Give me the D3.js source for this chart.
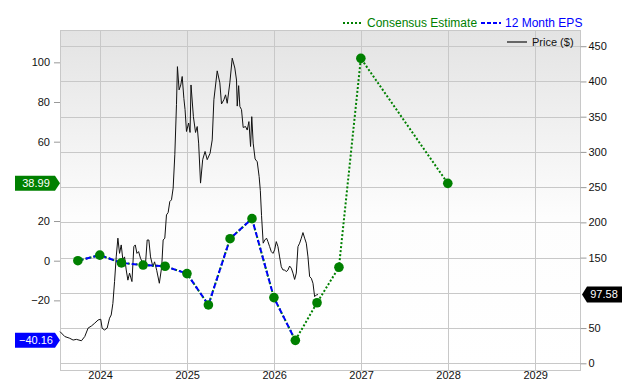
<!DOCTYPE html>
<html>
<head>
<meta charset="utf-8">
<script src="https://cdn.jsdelivr.net/npm/d3@7"></script>
<style>
  body { margin: 0; background: #fff; }
  svg { display: block; font-family: "Liberation Sans", Arial, sans-serif; }
</style>
</head>
<body>
<div id="chart"></div>
<script>
// data
const priceDates = [
  '2023-07-17', '2023-08-06', '2023-08-27', '2023-09-10', '2023-09-24', '2023-10-15',
  '2023-10-29', '2023-11-12', '2023-11-26', '2023-12-10', '2023-12-24', '2024-01-04',
  '2024-01-10', '2024-01-20', '2024-01-31', '2024-02-10', '2024-02-17', '2024-02-24',
  '2024-03-02', '2024-03-09', '2024-03-16', '2024-03-23', '2024-03-30', '2024-04-06',
  '2024-04-13', '2024-04-20', '2024-04-27', '2024-05-04', '2024-05-14', '2024-05-22',
  '2024-05-28', '2024-06-04', '2024-06-11', '2024-06-19', '2024-06-29', '2024-07-09',
  '2024-07-17', '2024-07-24', '2024-07-31', '2024-08-10', '2024-08-17', '2024-08-26',
  '2024-09-06', '2024-09-16', '2024-09-22', '2024-09-29', '2024-10-06', '2024-10-13',
  '2024-10-20', '2024-10-27', '2024-11-03', '2024-11-10', '2024-11-17', '2024-11-21',
  '2024-11-28', '2024-12-05', '2024-12-11', '2024-12-18', '2024-12-23', '2024-12-29',
  '2025-01-07', '2025-01-13', '2025-01-17', '2025-01-27', '2025-02-05', '2025-02-12',
  '2025-02-18', '2025-02-26', '2025-03-07', '2025-03-17', '2025-03-26', '2025-04-07',
  '2025-04-16', '2025-04-23', '2025-05-07', '2025-05-18', '2025-05-25', '2025-06-04',
  '2025-06-11', '2025-06-18', '2025-06-29', '2025-07-09', '2025-07-20', '2025-07-27',
  '2025-07-30', '2025-08-05', '2025-08-10', '2025-08-17', '2025-08-24', '2025-09-03',
  '2025-09-10', '2025-09-17', '2025-09-24', '2025-09-29', '2025-10-05', '2025-10-13',
  '2025-10-22', '2025-10-30', '2025-11-04', '2025-11-09', '2025-11-16', '2025-11-23',
  '2025-11-30', '2025-12-06', '2025-12-13', '2025-12-20', '2025-12-27', '2026-01-03',
  '2026-01-10', '2026-01-17', '2026-01-24', '2026-01-31', '2026-02-07', '2026-02-14',
  '2026-02-21', '2026-02-28', '2026-03-07', '2026-03-14', '2026-03-21', '2026-03-28',
  '2026-04-04', '2026-04-11', '2026-04-18', '2026-04-25', '2026-05-02', '2026-05-09',
  '2026-05-16', '2026-05-23', '2026-05-30', '2026-06-06', '2026-06-13', '2026-06-20',
  '2026-06-27', '2026-07-04'
];
const priceValues = [
  45, 38, 35.5, 33, 34, 32,
  38, 50, 53, 57, 61.5, 62.5,
  49.7, 47.3, 50, 64, 68.6, 85,
  116, 151, 177.6, 156, 168, 146.7,
  151, 132.5, 118, 128, 116, 165.6,
  168, 156, 158.5, 149, 142, 137,
  175, 175, 151, 137, 144, 132,
  113.6, 137, 175, 177.6, 210.6, 214,
  229.5, 232, 248.6, 296, 367, 421,
  388, 395, 407, 376, 360, 329,
  341, 327.6, 395, 350, 327.6, 336,
  312.5, 255.7, 289, 300.6, 289, 298,
  317, 374, 415, 398, 368, 374,
  381, 369, 398, 433, 419, 402,
  365, 394, 364.5, 360, 334.7, 336,
  331, 343, 307.7, 350, 312.5, 290,
  286, 265, 245, 210, 170.5, 175,
  177.6, 172.7, 165.6, 158.5, 156, 161,
  172.7, 165.6, 151, 137, 132.5, 132.5,
  130, 132.5, 138, 135, 128, 119,
  128, 165.6, 170.5, 177.6, 185.5, 177.6,
  170.5, 151, 123, 120.7, 113.6, 94.6,
  97, 97.58
];

const epsDates = [
  '2023-09-30', '2023-12-31', '2024-03-31', '2024-06-30', '2024-09-30', '2024-12-31',
  '2025-03-31', '2025-06-30', '2025-09-30', '2025-12-31', '2026-03-31'
];
const epsValues = [0, 2.8, -1.1, -2.2, -2.8, -6.5, -22.3, 11.1, 21.2, -18.6, -40.16];

const estimateDates = ['2026-06-30', '2026-09-30', '2026-12-31', '2027-12-31'];
const estimateValues = [-21.2, -3.3, 102.0, 38.99];

const epsTicks = [-20, 0, 20, 60, 80, 100];
const priceGrid = [0, 50, 100, 150, 200, 250, 300, 350, 400, 450];
const priceTicks = [0, 50, 150, 200, 250, 300, 350, 400, 450];
const yearTicks = [2024, 2025, 2026, 2027, 2028, 2029];

const lastPrice = 97.58;
const lastEps = -40.16;
const nextYearEstimate = 38.99;

// layout
const width = 640;
const height = 380;
const plot = { left: 60, right: 580, top: 30, bottom: 370 };
const green = '#008000';
const blue = '#0000ff';

const parse = d3.timeParse('%Y-%m-%d');
const price = priceDates.map((d, i) => ({ date: parse(d), value: priceValues[i] }));
const eps = epsDates.map((d, i) => ({ date: parse(d), value: epsValues[i] }));
const estimate = estimateDates.map((d, i) => ({ date: parse(d), value: estimateValues[i] }));

const x = d3.scaleTime()
    .domain([parse('2023-07-17'), parse('2029-07-08')])
    .range([plot.left, plot.right]);
const yPrice = d3.scaleLinear().domain([-9.5, 473]).range([plot.bottom, plot.top]);
const yEps = d3.scaleLinear().domain([-55.1, 116.3]).range([plot.bottom, plot.top]);

const svg = d3.select('#chart').append('svg')
    .attr('width', width)
    .attr('height', height)
    .attr('viewBox', [0, 0, width, height]);

// background gradient
const grad = svg.append('defs').append('linearGradient')
    .attr('id', 'bg').attr('x1', 0).attr('y1', 0).attr('x2', 0).attr('y2', 1);
grad.append('stop').attr('offset', '0%').attr('stop-color', '#e3e3e3');
grad.append('stop').attr('offset', '55%').attr('stop-color', '#fdfdfd');
grad.append('stop').attr('offset', '100%').attr('stop-color', '#ffffff');

svg.append('rect')
    .attr('x', plot.left).attr('y', plot.top)
    .attr('width', plot.right - plot.left).attr('height', plot.bottom - plot.top)
    .attr('fill', 'url(#bg)');

// grid
const grid = svg.append('g').attr('stroke', '#c8c8c8').attr('stroke-width', 1);
grid.selectAll('.h').data(priceGrid).join('line')
    .attr('x1', plot.left).attr('x2', plot.right)
    .attr('y1', (d) => Math.round(yPrice(d)) + 0.5)
    .attr('y2', (d) => Math.round(yPrice(d)) + 0.5);
grid.selectAll('.v').data(yearTicks).join('line')
    .attr('y1', plot.top).attr('y2', plot.bottom)
    .attr('x1', (d) => Math.round(x(new Date(d, 0, 1))) + 0.5)
    .attr('x2', (d) => Math.round(x(new Date(d, 0, 1))) + 0.5);

svg.append('rect')
    .attr('x', plot.left + 0.5).attr('y', plot.top + 0.5)
    .attr('width', plot.right - plot.left).attr('height', plot.bottom - plot.top)
    .attr('fill', 'none').attr('stroke', '#c8c8c8');

// axes
const styleAxis = (g) => {
  g.select('.domain').remove();
  g.selectAll('.tick line').attr('stroke', '#999');
  g.selectAll('.tick text').attr('fill', '#111').attr('font-size', 11);
};

svg.append('g')
    .attr('transform', `translate(${plot.left},0)`)
    .call(d3.axisLeft(yEps).tickValues(epsTicks).tickSize(6).tickPadding(4))
    .call(styleAxis);

svg.append('g')
    .attr('transform', `translate(${plot.right + 0.5},0)`)
    .call(d3.axisRight(yPrice).tickValues(priceTicks).tickSize(6).tickPadding(2))
    .call(styleAxis);

svg.append('g')
    .attr('transform', `translate(0,${plot.bottom})`)
    .call(d3.axisBottom(x)
        .tickValues(yearTicks.map((d) => new Date(d, 0, 1)))
        .tickFormat(d3.timeFormat('%Y'))
        .tickSize(0))
    .call(styleAxis)
    .call((g) => g.selectAll('.tick text').attr('y', 5).attr('dy', '0.35em'));

// price line
svg.append('path')
    .datum(price)
    .attr('fill', 'none')
    .attr('stroke', '#111')
    .attr('stroke-width', 1)
    .attr('stroke-linejoin', 'round')
    .attr('d', d3.line().x((d) => x(d.date)).y((d) => yPrice(d.value)));

// eps lines
const epsLine = d3.line().x((d) => x(d.date)).y((d) => yEps(d.value));
svg.append('path')
    .datum(eps.concat(estimate))
    .attr('fill', 'none')
    .attr('stroke', green)
    .attr('stroke-width', 2)
    .attr('stroke-dasharray', '2,2')
    .attr('d', epsLine);
svg.append('path')
    .datum(eps)
    .attr('fill', 'none')
    .attr('stroke', blue)
    .attr('stroke-width', 2)
    .attr('stroke-dasharray', '5,3')
    .attr('d', epsLine);

svg.append('g')
    .attr('fill', green)
    .selectAll('circle')
    .data(eps.concat(estimate))
    .join('circle')
    .attr('cx', (d) => x(d.date))
    .attr('cy', (d) => yEps(d.value))
    .attr('r', 4.8);

// value tags
const leftTag = (value, color) => {
  const cy = yEps(value);
  const g = svg.append('g');
  g.append('path')
      .attr('d', `M15,${cy - 7.5}H55L60,${cy}L55,${cy + 7.5}H15Z`)
      .attr('fill', color);
  g.append('text')
      .attr('x', 36).attr('y', cy).attr('dy', '0.35em')
      .attr('text-anchor', 'middle').attr('font-size', 11).attr('fill', '#fff')
      .text(d3.format('.2f')(value));
};
leftTag(nextYearEstimate, green);
leftTag(lastEps, blue);

const py = yPrice(lastPrice);
svg.append('path')
    .attr('d', `M582,${py}L587,${py - 8}H622V${py + 8}H587Z`)
    .attr('fill', '#000');
svg.append('text')
    .attr('x', 604).attr('y', py).attr('dy', '0.35em')
    .attr('text-anchor', 'middle').attr('font-size', 11).attr('fill', '#fff')
    .text(d3.format('.2f')(lastPrice));

// legend
const legend = svg.append('g').attr('font-size', 12);
legend.append('line')
    .attr('x1', 343).attr('x2', 363).attr('y1', 23).attr('y2', 23)
    .attr('stroke', green).attr('stroke-width', 2).attr('stroke-dasharray', '2,2');
legend.append('text')
    .attr('x', 367).attr('y', 23).attr('dy', '0.35em').attr('fill', green)
    .text('Consensus Estimate');
legend.append('line')
    .attr('x1', 481).attr('x2', 501).attr('y1', 23).attr('y2', 23)
    .attr('stroke', blue).attr('stroke-width', 2).attr('stroke-dasharray', '4,2');
legend.append('text')
    .attr('x', 505).attr('y', 23).attr('dy', '0.35em').attr('fill', blue)
    .text('12 Month EPS');
legend.append('line')
    .attr('x1', 507).attr('x2', 527).attr('y1', 42).attr('y2', 42)
    .attr('stroke', '#666').attr('stroke-width', 2);
legend.append('text')
    .attr('x', 532).attr('y', 42).attr('dy', '0.35em').attr('font-size', 11).attr('fill', '#111')
    .text('Price ($)');
</script>
</body>
</html>
